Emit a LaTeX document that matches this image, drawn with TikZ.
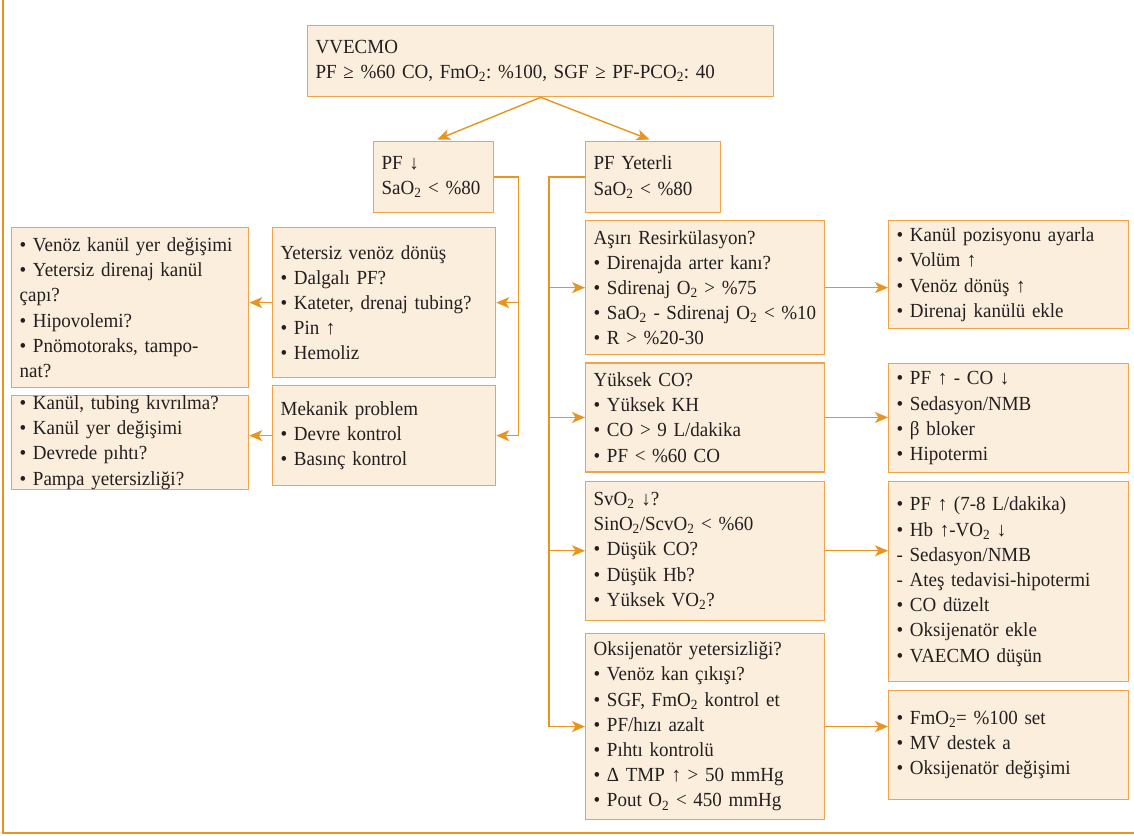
\documentclass[tikz,border=0pt]{standalone}
\usepackage{fontspec}
\setmainfont{Liberation Serif}[FakeStretch=0.95]
\usetikzlibrary{positioning, arrows.meta, calc}
\definecolor{boxfill}{HTML}{FBEEDC}
\definecolor{boxline}{HTML}{F0A347}
\definecolor{arrline}{HTML}{E8941F}
\definecolor{ink}{HTML}{231F20}
\newcommand{\Otwo}{O\textsubscript{2}}
\frenchspacing

\begin{document}
\begin{tikzpicture}[x=1pt, y=-1pt,
    box/.style={draw=boxline, fill=boxfill, line width=1.3pt, anchor=north west, text=ink,
        align=left, inner xsep=8pt, inner ysep=0pt, font=\fontsize{20}{25.2}\selectfont},
    arr/.style={draw=arrline, line width=1.4pt, -{Stealth[length=13pt, width=11pt, inset=3.5pt]}}]
        \useasboundingbox (0,0) rectangle (1134,835);
        \draw[arrline, line width=2pt] (3,0) -- (3,833) -- (1134,833);

        \node[box, text width=450pt, minimum height=71pt] (vv) at (307,25)
            {VVECMO\\PF ≥ \%60 CO, Fm\Otwo: \%100, SGF ≥ PF-PC\Otwo: 40};
        \node[box, text width=104pt, minimum height=71pt] (pfdown) at (373,141)
            {PF ↓\\Sa\Otwo{} < \%80};
        \node[box, text width=119pt, minimum height=71pt] (pfok) at (585,141)
            {PF Yeterli\\Sa\Otwo{} < \%80};

        \node[box, text width=207pt, minimum height=150pt] (yvd) at (272,227)
            {Yetersiz venöz dönüş\\• Dalgalı PF?\\• Kateter, drenaj tubing?\\• Pin ↑\\• Hemoliz};
        \node[box, text width=207pt, minimum height=100pt] (mek) at (272,385)
            {Mekanik problem\\• Devre kontrol\\• Basınç kontrol};
        \node[box, text width=221pt, minimum height=160pt] (left1) at (11,227)
            {• Venöz kanül yer değişimi\\• Yetersiz direnaj kanül\\çapı?\\• Hipovolemi?\\• Pnömotoraks, tampo-\\nat?};
        \node[box, text width=221pt, minimum height=80pt] (left2) at (11,395)
            {• Kanül, tubing kıvrılma?\\• Kanül yer değişimi\\• Devrede pıhtı?\\• Pampa yetersizliği?};

        \node[box, text width=223pt, minimum height=134pt] (resirk) at (585,220)
            {Aşırı Resirkülasyon?\\• Direnajda arter kanı?\\• Sdirenaj \Otwo{} > \%75\\• Sa\Otwo{} - Sdirenaj \Otwo{} < \%10\\• R > \%20-30};
        \node[box, text width=223pt, minimum height=109pt, below=7pt of resirk.south west, anchor=north west] (yco)
            {Yüksek CO?\\• Yüksek KH\\• CO > 9 L/dakika\\• PF < \%60 CO};
        \node[box, text width=223pt, minimum height=139pt, below=8pt of yco.south west, anchor=north west] (svo)
            {Sv\Otwo{} ↓?\\Sin\Otwo/Scv\Otwo{} < \%60\\• Düşük CO?\\• Düşük Hb?\\• Yüksek V\Otwo?};
        \node[box, text width=223pt, minimum height=186pt, below=12pt of svo.south west, anchor=north west] (oks)
            {Oksijenatör yetersizliği?\\• Venöz kan çıkışı?\\• SGF, Fm\Otwo{} kontrol et\\• PF/hızı azalt\\• Pıhtı kontrolü\\• Δ TMP ↑ > 50 mmHg\\• Pout \Otwo{} < 450 mmHg};

        \node[box, text width=224pt, minimum height=108pt] (resirk-r) at (888,220)
            {• Kanül pozisyonu ayarla\\• Volüm ↑\\• Venöz dönüş ↑\\• Direnaj kanülü ekle};
        \node[box, text width=224pt, minimum height=109pt] (yco-r) at (888,363)
            {• PF ↑ - CO ↓\\• Sedasyon/NMB\\• β bloker\\• Hipotermi};
        \node[box, text width=224pt, minimum height=200pt] (svo-r) at (888,481)
            {• PF ↑ (7-8 L/dakika)\\• Hb ↑-V\Otwo{} ↓\\- Sedasyon/NMB\\- Ateş tedavisi-hipotermi\\• CO düzelt\\• Oksijenatör ekle\\• VAECMO düşün};
        \node[box, text width=224pt, minimum height=109pt] (oks-r) at (888,690)
            {• Fm\Otwo= \%100 set\\• MV destek a\\• Oksijenatör değişimi};

        \coordinate (lt) at ($(pfdown.east)+(24,0)$);
        \coordinate (rt) at ($(pfok.west)+(-36,0)$);

        \draw[arr, shorten >=4pt] (vv.south) -- (pfdown.north);
        \draw[arr, shorten >=4pt] (vv.south) -- (pfok.north);
        \draw[arr] (pfdown.east) -- (lt) |- (mek.east);
        \draw[arr] (lt |- yvd.east) -- (yvd.east);
        \draw[arr] (yvd.west) -- (yvd.west -| left1.east);
        \draw[arr] (mek.west) -- (mek.west -| left2.east);
        \draw[arr] (pfok.west) -- (rt) |- (oks.west);
        \foreach \n in {resirk, yco, svo}
            \draw[arr] (rt |- \n.west) -- (\n.west);
        \foreach \n in {resirk, yco, svo, oks}
            \draw[arr] (\n.east) -- (\n.east -| \n-r.west);
\end{tikzpicture}
\end{document}
